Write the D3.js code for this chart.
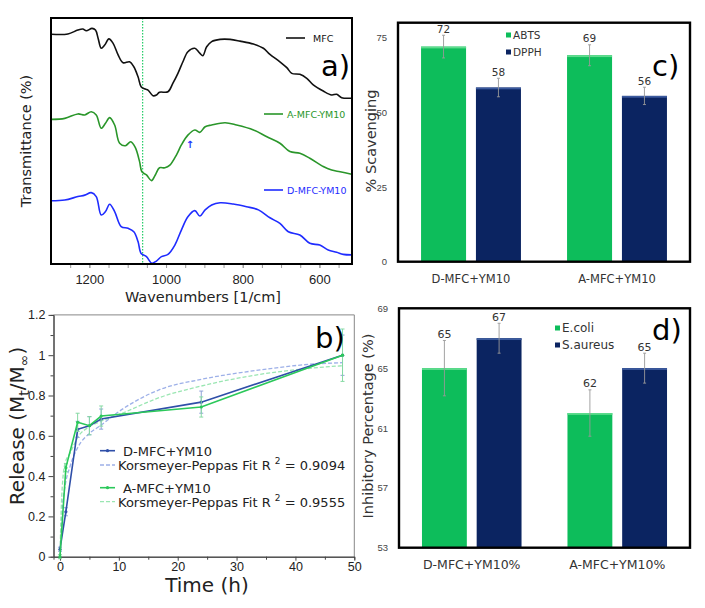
<!DOCTYPE html>
<html>
<head>
<meta charset="utf-8">
<style>
    body { margin: 0; background: #fff; }
    svg { font-family: "DejaVu Sans", Verdana, sans-serif; }
    .ta .tick line { stroke: #999; }
    .ta .domain { display: none; }
    .ta .tick text { font-size: 13px; fill: #222; }
    .tb .domain { stroke: #444; }
    .tb .tick line { stroke: #444; }
    .tb .tick text { font-size: 12.5px; fill: #222; }
    .bar-axis .domain, .bar-axis .tick line { display: none; }
    .bar-axis .tick text { fill: #444; }
</style>
</head>
<body>
<svg width="705" height="608"></svg>
<script src="https://d3js.org/d3.v7.min.js"></script>
<script>
// ---------- data ----------
// a) FTIR spectra, [wavenumber, transmittance (arb. units)]
let specMFC = [[1299,93.4],[1256,93.5],[1230,95.1],[1217,95.5],[1208,94.8],[1193,95.8],[1184,95.1],[1177,91.7],
    [1169,87.7],[1160,89.0],[1149,91.5],[1138,89.7],[1125,85.0],[1112,81.8],[1095,82.2],[1084,80.2],[1073,76.1],
    [1065,72.1],[1054,71.1],[1047,70.7],[1034,68.4],[1025,68.7],[1017,69.8],[995,70.0],[982,73.5],[969,77.5],
    [956,82.2],[943,86.3],[925,87.7],[912,85.7],[904,84.7],[894,88.3],[881,90.4],[859,91.3],[833,91.3],[807,90.6],
    [772,89.4],[746,87.7],[729,85.2],[703,82.2],[685,79.8],[672,77.5],[651,77.1],[633,75.5],[616,72.8],[590,70.3],
    [568,68.7],[555,69.0],[542,67.6],[516,67.4]]
let specA = [[1299,58.8],[1264,59.2],[1230,61.0],[1212,60.6],[1195,61.9],[1182,60.6],[1169,55.2],[1158,57.2],
    [1147,59.5],[1134,56.5],[1121,49.1],[1106,48.1],[1092,49.7],[1080,47.3],[1069,41.6],[1063,37.5],[1051,36.2],
    [1038,33.9],[1028,36.2],[1017,39.1],[1003,39.1],[990,40.2],[973,44.3],[960,48.4],[943,52.4],[925,54.5],
    [912,53.5],[898,55.8],[881,56.5],[846,57.4],[816,56.5],[772,54.5],[737,51.7],[703,49.1],[677,45.7],[651,45.0],
    [625,43.0],[590,39.6],[568,38.2],[546,37.5],[516,36.5]]
let specD = [[1299,25.7],[1264,26.0],[1230,27.4],[1212,28.0],[1195,29.0],[1182,27.4],[1169,19.9],[1158,21.3],
    [1147,24.3],[1134,21.3],[1117,15.2],[1099,14.5],[1084,13.1],[1073,9.1],[1065,4.3],[1051,3.0],[1037,0.3],
    [1025,1.2],[1012,3.0],[995,3.9],[977,7.7],[960,13.8],[943,19.2],[925,21.7],[912,19.5],[898,22.0],[881,24.0],
    [859,24.9],[825,24.4],[790,23.3],[759,22.0],[729,18.8],[703,16.5],[681,13.1],[651,11.8],[625,8.4],[599,7.7],
    [577,5.7],[555,4.8],[538,3.9],[516,3.7]]
let markWn = 1061
let wnTicks = [1200, 1000, 800, 600]

// b) release profiles
let times = [0, 1, 3, 5, 7, 24, 48]
let releaseD = [0.037, 0.223, 0.632, 0.650, 0.683, 0.767, 1.0]
let releaseA = [0.0, 0.442, 0.667, 0.650, 0.698, 0.743, 1.0]
let errD = [0.01, 0.02, 0.04, 0.045, 0.05, 0.055, 0.10]
let errA = [0.01, 0.02, 0.045, 0.045, 0.05, 0.05, 0.13]
let fitTimes = [0, 0.3, 0.85, 1.7, 3.1, 5, 6.8, 10, 17, 24, 34, 42.5, 48]
let fitD = [0, 0.20, 0.347, 0.447, 0.546, 0.612, 0.649, 0.72, 0.83, 0.88, 0.927, 0.955, 0.963]
let fitA = [0, 0.30, 0.463, 0.513, 0.596, 0.645, 0.670, 0.705, 0.791, 0.847, 0.905, 0.935, 0.948]

// c) antioxidant
let scavGroups = ["D-MFC+YM10", "A-MFC+YM10"]
let scavKeys = ["ABTS", "DPPH"]
let abts = [72.0, 69.1]
let dpph = [58.3, 55.5]
let abtsErr = [3.8, 3.5]
let dpphErr = [3.1, 2.9]
let scavTicks = [0, 25, 50, 75]

// d) antibacterial
let inhGroups = ["D-MFC+YM10%", "A-MFC+YM10%"]
let inhKeys = ["E.coli", "S.aureus"]
let ecoli = [65, 62]
let saureus = [67, 65]
let ecoliErr = [1.85, 1.55]
let saureusErr = [1.0, 1.0]
let inhTicks = [53, 57, 61, 65, 69]

let svg = d3.select("svg")

// ---------- a) ----------
let xA = d3.scaleLinear().domain([1300, 515]).range([51, 352])
let yA = d3.scaleLinear().domain([0, 100]).range([264, 18])

svg.append("clipPath").attr("id", "clipA")
    .append("rect").attr("x", 51).attr("y", 18).attr("width", 301).attr("height", 246)

let gA = svg.append("g")

gA.append("g").attr("class", "ta")
    .attr("transform", "translate(0,264)")
    .call(d3.axisBottom(xA).tickValues(d3.range(1250, 515, -50)).tickSize(4).tickFormat(""))
gA.append("g").attr("class", "ta")
    .attr("transform", "translate(0,264)")
    .call(d3.axisBottom(xA).tickValues(wnTicks).tickSize(4).tickPadding(7).tickFormat(d3.format("d")))

gA.append("line")
    .attr("x1", xA(markWn)).attr("x2", xA(markWn))
    .attr("y1", yA(100)).attr("y2", yA(0))
    .style("stroke", "#22cc66").style("stroke-width", 1.2).style("stroke-dasharray", "1.5,1.5")

let lineA = d3.line().x(d => xA(d[0])).y(d => yA(d[1])).curve(d3.curveCatmullRom)

let spectra = [
    { name: "MFC", data: specMFC, color: "#111" },
    { name: "A-MFC-YM10", data: specA, color: "#2a962a" },
    { name: "D-MFC-YM10", data: specD, color: "#1f2cff" }
]

gA.append("g").attr("clip-path", "url(#clipA)")
    .selectAll("path").data(spectra).join("path")
    .attr("d", d => lineA(d.data))
    .style("fill", "none").style("stroke", d => d.color).style("stroke-width", 1.6)

gA.append("rect").attr("x", 51).attr("y", 18).attr("width", 301).attr("height", 246)
    .style("fill", "none").style("stroke", "#000").style("stroke-width", 2)

// legend a
let legA = [{ s: spectra[0], x: 286, y: 38 }, { s: spectra[1], x: 264, y: 114 }, { s: spectra[2], x: 264, y: 190 }]
legA.forEach(l => {
    gA.append("line").attr("x1", l.x).attr("x2", l.x + 19).attr("y1", l.y).attr("y2", l.y)
        .style("stroke", l.s.color).style("stroke-width", 1.6)
    gA.append("text").attr("x", l.x + 27 - (l.s.name === "MFC" ? 0 : 4)).attr("y", l.y + 3.5)
        .style("font-size", "9.5px").style("fill", l.s.color).text(l.s.name)
})

gA.append("text").attr("x", 190).attr("y", 148).attr("text-anchor", "middle")
    .style("font-size", "10px").style("font-weight", "bold").style("fill", "#2233ff").text("↑")

gA.append("text").attr("x", 321).attr("y", 76).style("font-size", "29px").text("a)")

gA.append("text").attr("x", 203).attr("y", 302).attr("text-anchor", "middle")
    .style("font-size", "14.5px").style("fill", "#222").text("Wavenumbers [1/cm]")
gA.append("text").attr("transform", "translate(31,141) rotate(-90)").attr("text-anchor", "middle")
    .style("font-size", "14.5px").style("fill", "#222").text("Transmittance (%)")

// ---------- b) ----------
let xB = d3.scaleLinear().domain([-1.1, 50]).range([53.5, 354.3])
let yB = d3.scaleLinear().domain([0, 1.2]).range([556.7, 314.9])
let gB = svg.append("g")

gB.append("line").attr("x1", xB(-1.1)).attr("x2", xB(50)).attr("y1", yB(1.2)).attr("y2", yB(1.2))
    .style("stroke", "#888")
gB.append("line").attr("x1", xB(50)).attr("x2", xB(50)).attr("y1", yB(1.2)).attr("y2", yB(0))
    .style("stroke", "#888")

gB.append("g").attr("class", "tb").attr("transform", `translate(${xB(-1.1)},0)`)
    .call(d3.axisLeft(yB).tickValues(d3.range(0.1, 1.2, 0.2)).tickSize(3).tickFormat(""))
gB.append("g").attr("class", "tb").attr("transform", `translate(${xB(-1.1)},0)`)
    .call(d3.axisLeft(yB).tickValues([0, 0.2, 0.4, 0.6, 0.8, 1, 1.2]).tickSize(5).tickSizeOuter(0).tickFormat(d3.format("~g")))
gB.append("g").attr("class", "tb").attr("transform", `translate(0,${yB(0)})`)
    .call(d3.axisBottom(xB).tickValues(d3.range(5, 50, 10)).tickSize(3).tickFormat(""))
gB.append("g").attr("class", "tb").attr("transform", `translate(0,${yB(0)})`)
    .call(d3.axisBottom(xB).tickValues([0, 10, 20, 30, 40, 50]).tickSize(4).tickPadding(1).tickSizeOuter(0))

let lineB = d3.line().x(d => xB(d[0])).y(d => yB(d[1]))

let fits = [
    { data: d3.zip(fitTimes, fitD), color: "#9db0e8" },
    { data: d3.zip(fitTimes, fitA), color: "#9ae6b2" }
]
gB.selectAll(".fit").data(fits).join("path").attr("class", "fit")
    .attr("d", d => lineB.curve(d3.curveMonotoneX)(d.data))
    .style("fill", "none").style("stroke", d => d.color).style("stroke-width", 1.3)
    .style("stroke-dasharray", "4,2")

let rel = [
    { vals: releaseD, err: errD, color: "#2f4fa8", errColor: "#8ea2d8" },
    { vals: releaseA, err: errA, color: "#2bc85a", errColor: "#86d9a3" }
]
rel.forEach(r => {
    let pts = times.map((t, i) => ({ t: t, v: r.vals[i], e: r.err[i] }))
    let eb = gB.append("g").style("stroke", r.errColor).style("stroke-width", 1)
    pts.forEach(p => {
        eb.append("line").attr("x1", xB(p.t)).attr("x2", xB(p.t)).attr("y1", yB(p.v - p.e)).attr("y2", yB(p.v + p.e))
        eb.append("line").attr("x1", xB(p.t) - 2).attr("x2", xB(p.t) + 2).attr("y1", yB(p.v - p.e)).attr("y2", yB(p.v - p.e))
        eb.append("line").attr("x1", xB(p.t) - 2).attr("x2", xB(p.t) + 2).attr("y1", yB(p.v + p.e)).attr("y2", yB(p.v + p.e))
    })
    gB.append("path").attr("d", d3.line().x(p => xB(p.t)).y(p => yB(p.v))(pts))
        .style("fill", "none").style("stroke", r.color).style("stroke-width", 1.6)
    gB.selectAll(null).data(pts).join("circle")
        .attr("cx", p => xB(p.t)).attr("cy", p => yB(p.v)).attr("r", 1.6).style("fill", r.color)
})

// legend b
let legB = [
    { y: 450.7, color: "#2f4fa8", dash: null, x: 123, txt: "D-MFC+YM10" },
    { y: 465, color: "#9db0e8", dash: "4,2", x: 118, txt: "Korsmeyer-Peppas Fit R ", r2: " = 0.9094" },
    { y: 487.7, color: "#2bc85a", dash: null, x: 123, txt: "A-MFC+YM10" },
    { y: 501.7, color: "#9ae6b2", dash: "4,2", x: 118, txt: "Korsmeyer-Peppas Fit R ", r2: " = 0.9555" }
]
legB.forEach(l => {
    gB.append("line").attr("x1", 100).attr("x2", 115).attr("y1", l.y).attr("y2", l.y)
        .style("stroke", l.color).style("stroke-width", l.dash ? 1.3 : 1.6).style("stroke-dasharray", l.dash)
    if (!l.dash) gB.append("circle").attr("cx", 107.5).attr("cy", l.y).attr("r", 1.6).style("fill", l.color)
    let t = gB.append("text").attr("x", l.x).attr("y", l.y + 5).style("font-size", "13px").style("fill", "#222")
    t.append("tspan").text(l.txt)
    if (l.r2) {
        t.append("tspan").attr("dy", -6).style("font-size", "9px").text("2")
        t.append("tspan").attr("dy", 6).text(l.r2)
    }
})

gB.append("text").attr("x", 315).attr("y", 348).style("font-size", "29px").text("b)")

gB.append("text").attr("x", 207).attr("y", 592).attr("text-anchor", "middle")
    .style("font-size", "20px").style("fill", "#222").text("Time (h)")
let relLab = gB.append("text").attr("transform", "translate(24,426) rotate(-90)").attr("text-anchor", "middle")
    .style("font-size", "20px").style("fill", "#222")
relLab.append("tspan").text("Release (M")
relLab.append("tspan").attr("dy", 5).style("font-size", "14px").text("t")
relLab.append("tspan").attr("dy", -5).text("/M")
relLab.append("tspan").attr("dy", 5).style("font-size", "14px").text("∞")
relLab.append("tspan").attr("dy", -5).text(")")

// ---------- bar panels (c, d) ----------
let greenBar = "#0dbd5b", navyBar = "#0b2461"
let greenTop = "#5fdc8e", navyTop = "#3b5a9e"

function barPanel(opts) {
    let g = svg.append("g")
    let x0 = d3.scaleBand().domain(opts.groups).range([opts.left, opts.right])
    let x1 = d3.scaleBand().domain(opts.keys).range([0, x0.bandwidth()]).paddingInner(0.18).paddingOuter(0.42)
    let y = d3.scaleLinear().domain(opts.domain).range([opts.bottom, opts.top])
    let colors = [greenBar, navyBar], tops = [greenTop, navyTop]

    g.append("g").attr("class", "bar-axis").attr("transform", `translate(${opts.left - 8},0)`)
        .call(d3.axisLeft(y).tickValues(opts.ticks).tickSize(0))
        .selectAll("text").style("font-size", opts.tickSize)

    let rows = []
    opts.groups.forEach((grp, gi) => {
        opts.keys.forEach((k, ki) => {
            rows.push({ grp: grp, key: ki, v: opts.values[ki][gi], e: opts.errs[ki][gi] })
        })
    })

    g.selectAll(".bar").data(rows).join("rect").attr("class", "bar")
        .attr("x", d => x0(d.grp) + x1(opts.keys[d.key]))
        .attr("y", d => y(d.v)).attr("width", x1.bandwidth())
        .attr("height", d => opts.bottom - y(d.v))
        .style("fill", d => colors[d.key])
    g.selectAll(".bartop").data(rows).join("rect").attr("class", "bartop")
        .attr("x", d => x0(d.grp) + x1(opts.keys[d.key]))
        .attr("y", d => y(d.v)).attr("width", x1.bandwidth()).attr("height", 1.8)
        .style("fill", d => tops[d.key])

    rows.forEach(d => {
        let cx = x0(d.grp) + x1(opts.keys[d.key]) + x1.bandwidth() / 2
        g.append("line").attr("x1", cx).attr("x2", cx).attr("y1", y(d.v - d.e)).attr("y2", y(d.v + d.e))
            .style("stroke", "#999").style("stroke-width", 0.9)
        ;[d.v - d.e, d.v + d.e].forEach(v => {
            g.append("line").attr("x1", cx - 1.5).attr("x2", cx + 1.5).attr("y1", y(v)).attr("y2", y(v))
                .style("stroke", "#999").style("stroke-width", 0.9)
        })
        g.append("text").attr("x", cx).attr("y", y(d.v + d.e) - 2.5).attr("text-anchor", "middle")
            .style("font-size", opts.valSize).style("fill", "#333").text(Math.round(d.v))
    })

    g.append("rect").attr("x", opts.left).attr("y", opts.top)
        .attr("width", opts.right - opts.left).attr("height", opts.bottom - opts.top)
        .style("fill", "none").style("stroke", "#000").style("stroke-width", 2.4)

    opts.groups.forEach(grp => {
        g.append("text").attr("x", x0(grp) + x0.bandwidth() / 2).attr("y", opts.bottom + opts.catDy)
            .attr("text-anchor", "middle").style("font-size", opts.catSize).style("fill", "#333").text(grp)
    })

    opts.keys.forEach((k, i) => {
        let ly = opts.legY + i * opts.legStep
        g.append("rect").attr("x", opts.legX).attr("y", ly - 2.5).attr("width", 5).attr("height", 5)
            .style("fill", colors[i])
        g.append("text").attr("x", opts.legX + 7).attr("y", ly + 4)
            .style("font-size", opts.legSize).style("fill", "#333").text(k)
    })

    g.append("text").attr("x", opts.tagX).attr("y", opts.tagY).style("font-size", "29px").text(opts.tag)
    g.append("text").attr("transform", `translate(${opts.labX},${opts.labY}) rotate(-90)`)
        .attr("text-anchor", "middle").style("font-size", "14.5px").style("fill", "#333").text(opts.label)
}

barPanel({
    groups: scavGroups, keys: scavKeys, values: [abts, dpph], errs: [abtsErr, dpphErr],
    domain: [0, 80], ticks: scavTicks, left: 398, right: 690, top: 22.7, bottom: 261.7,
    tickSize: "9.5px", valSize: "10.5px", catSize: "11.5px", catDy: 21,
    legX: 506, legY: 35, legStep: 17, legSize: "10.5px",
    tag: "c)", tagX: 652, tagY: 76, label: "% Scavenging", labX: 376, labY: 141
})

barPanel({
    groups: inhGroups, keys: inhKeys, values: [ecoli, saureus], errs: [ecoliErr, saureusErr],
    domain: [53, 69], ticks: inhTicks, left: 399, right: 690, top: 308.3, bottom: 547.7,
    tickSize: "9.5px", valSize: "11px", catSize: "12.5px", catDy: 21,
    legX: 555, legY: 328, legStep: 17, legSize: "12px",
    tag: "d)", tagX: 652, tagY: 340, label: "Inhibitory Percentage (%)", labX: 373, labY: 426
})
</script>
</body>
</html>
